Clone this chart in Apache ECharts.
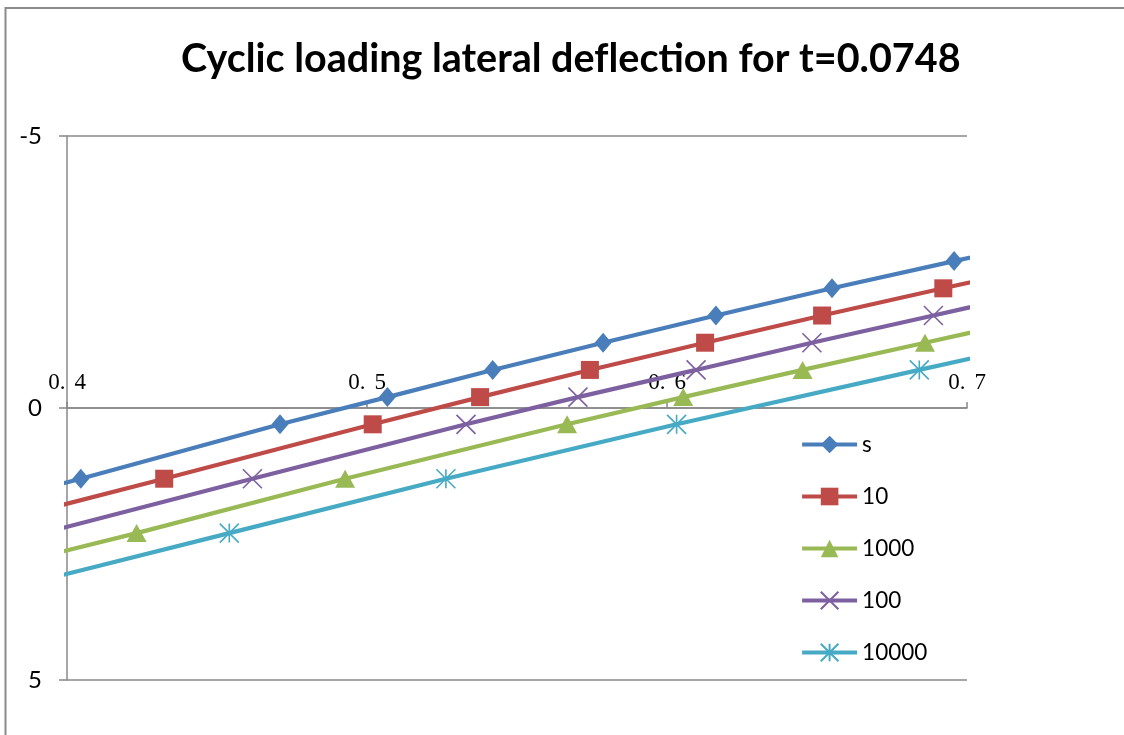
<!DOCTYPE html>
<html>
<head>
<meta charset="utf-8">
<script src="https://cdn.jsdelivr.net/npm/echarts@6/dist/echarts.min.js"></script>
<style>
  html, body { margin: 0; padding: 0; background: #fff; }
  #chart { width: 1124px; height: 735px; }
</style>
</head>
<body>
<div id="chart"></div>
<script>
// Lateral deflection vs. position, one curve per cycle count
var seriesNames = ['s', '10', '1000', '100', '10000'];
var seriesColors = ['#4A7EBB', '#BE4B48', '#98B954', '#7D60A0', '#46AAC5'];

var sX = [0.335, 0.4046, 0.471, 0.5068, 0.5419, 0.5787, 0.6163, 0.655, 0.6957, 0.737];
var sY = [2.3, 1.3, 0.3, -0.2, -0.7, -1.2, -1.7, -2.2, -2.7, -3.2];

var c10X = [0.362, 0.4324, 0.5019, 0.5377, 0.5743, 0.6127, 0.6517, 0.6921, 0.733];
var c10Y = [2.3, 1.3, 0.3, -0.2, -0.7, -1.2, -1.7, -2.2, -2.7];

var c1000X = [0.35, 0.4232, 0.4927, 0.5667, 0.6054, 0.6452, 0.686, 0.727];
var c1000Y = [3.3, 2.3, 1.3, 0.3, -0.2, -0.7, -1.2, -1.7];

var c100X = [0.392, 0.4618, 0.533, 0.5703, 0.6097, 0.6483, 0.6888, 0.729];
var c100Y = [2.3, 1.3, 0.3, -0.2, -0.7, -1.2, -1.7, -2.2];

var c10000X = [0.382, 0.4541, 0.5263, 0.6032, 0.6841, 0.725];
var c10000Y = [3.3, 2.3, 1.3, 0.3, -0.7, -1.2];

var xTicks = [0.4, 0.5, 0.6, 0.7];
var yTicks = [-5, 0, 5];

function pairs(xs, ys) {
  return xs.map(function (x, i) { return [x, ys[i]]; });
}

var symbols = [
  { symbol: 'diamond', size: [17, 20], stroke: false },
  { symbol: 'rect', size: [18, 18], stroke: false },
  { symbol: 'triangle', size: [20, 18], stroke: false },
  { symbol: 'path://M0,0L10,10M10,0L0,10', size: [19, 19], stroke: true },
  { symbol: 'path://M0,0L10,10M10,0L0,10M5,0L5,10', size: [19, 19], stroke: true }
];

var dataSets = [
  pairs(sX, sY),
  pairs(c10X, c10Y),
  pairs(c1000X, c1000Y),
  pairs(c100X, c100Y),
  pairs(c10000X, c10000Y)
];

var series = seriesNames.map(function (name, i) {
  var sym = symbols[i];
  return {
    name: name,
    type: 'line',
    data: dataSets[i],
    clip: true,
    symbol: sym.symbol,
    symbolSize: sym.size,
    showAllSymbol: true,
    lineStyle: { color: seriesColors[i], width: 4.2 },
    itemStyle: sym.stroke
      ? { color: seriesColors[i], borderColor: seriesColors[i], borderWidth: 1.6 }
      : { color: seriesColors[i], borderWidth: 0 },
    emphasis: { disabled: true },
    animation: false,
    z: 2 + i
  };
});

var chart = echarts.init(document.getElementById('chart'), null, { renderer: 'canvas' });

chart.setOption({
  backgroundColor: '#ffffff',
  animation: false,
  title: {
    text: 'Cyclic loading lateral def\u200Clection for t=0.0748',
    left: 176,
    top: 34,
    textStyle: { fontFamily: 'Lato', fontWeight: 'bold', fontSize: 39.5, color: '#000' }
  },
  legend: {
    orient: 'vertical',
    left: 800,
    top: 433,
    padding: 0,
    itemWidth: 55,
    itemHeight: 22,
    itemGap: 29,
    data: seriesNames,
    lineStyle: { width: 4.2 },
    textStyle: { fontFamily: 'Lato', fontSize: 22.5, color: '#000' },
    selectedMode: false
  },
  grid: { left: 67, right: 157, top: 136, bottom: 55, containLabel: false },
  xAxis: {
    type: 'value',
    min: xTicks[0],
    max: xTicks[xTicks.length - 1],
    interval: 0.1,
    position: 'bottom',
    offset: -272,
    axisLine: { onZero: false, lineStyle: { color: '#888', width: 1.5 } },
    axisTick: { inside: true, length: 6, lineStyle: { color: '#888', width: 1.5 } },
    splitLine: { show: false },
    axisLabel: {
      inside: true,
      margin: 14,
      formatter: function (v) {
        var s = v.toFixed(1);
        return '{a|' + s.slice(0, 2) + '}{b|' + s.slice(2) + '}';
      },
      rich: {
        a: { fontFamily: 'Liberation Serif', fontSize: 23, color: '#000', padding: [0, 9, 0, 0] },
        b: { fontFamily: 'Liberation Serif', fontSize: 23, color: '#000' }
      }
    }
  },
  yAxis: {
    type: 'value',
    inverse: true,
    min: yTicks[0],
    max: yTicks[yTicks.length - 1],
    interval: 5,
    axisLine: { show: true, onZero: false, lineStyle: { color: '#888', width: 1.5 } },
    axisTick: { show: true, length: 8, lineStyle: { color: '#888', width: 1.5 } },
    splitLine: { show: true, lineStyle: { color: '#888', width: 1.5 } },
    axisLabel: { margin: 25, fontFamily: 'Lato', fontSize: 24, color: '#000' }
  },
  graphic: [
    {
      type: 'polyline',
      silent: true,
      shape: { points: [[5.5, 740], [5.5, 8], [1124, 8]] },
      style: { stroke: '#8a8a8a', lineWidth: 2, fill: null }
    }
  ],
  series: series
});
</script>
</body>
</html>
